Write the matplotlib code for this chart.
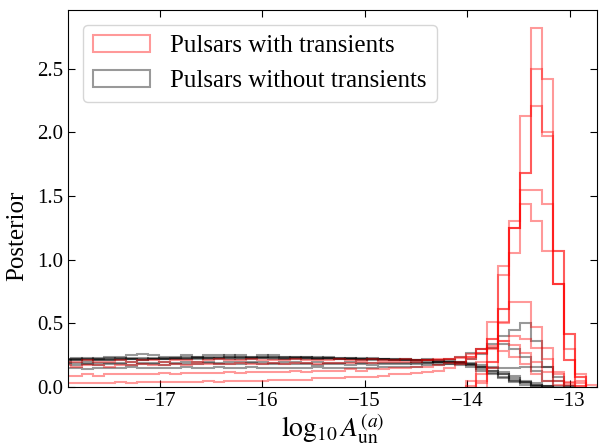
import numpy as np
import matplotlib
matplotlib.use('Agg')
import matplotlib.pyplot as plt

plt.rcParams['font.family'] = ['Liberation Serif', 'DejaVu Serif']
plt.rcParams['mathtext.fontset'] = 'stix'

# common bin grid for log10 amplitude (49 bins)
edges = np.linspace(-17.975, -12.732, 50)

# posterior densities, pulsars with transient noise
with_transients = [
    [0] * 37 + [0.01, 0.05, 0.2, 0.61, 1.25, 2.13, 2.82, 1.97, 0.81, 0.21, 0.03, 0],
    [0] * 38 + [0.03, 0.15, 0.5, 1.05, 1.68, 2.5, 2.42, 1.07, 0.42, 0.08, 0],
    [0] * 39 + [0.2, 0.61, 1.25, 1.68, 2.21, 2.0, 1.07, 0.3, 0.05, 0],
    [0] * 38 + [0.1, 0.31, 0.88, 1.25, 1.55, 1.55, 1.44, 0.81, 0.42, 0.1, 0.02],
    [0] * 37 + [0.05, 0.2, 0.51, 0.95, 1.3, 1.44, 1.3, 1.07, 0.81, 0.21, 0.08, 0],
    [0.03, 0.03, 0.03, 0.03, 0.03, 0.04, 0.03, 0.04, 0.04, 0.04,
     0.04, 0.04, 0.04, 0.05, 0.04, 0.05, 0.05, 0.05, 0.05, 0.06,
     0.06, 0.06, 0.06, 0.07, 0.07, 0.07, 0.08, 0.08, 0.08, 0.09,
     0.1, 0.1, 0.11, 0.12, 0.13, 0.15, 0.18, 0.22, 0.3, 0.38,
     0.51, 0.67, 0.67, 0.47, 0.31, 0.12, 0.04, 0.01, 0],
    [0.09, 0.09, 0.1, 0.09, 0.1, 0.1, 0.1, 0.1, 0.1, 0.11,
     0.1, 0.11, 0.11, 0.11, 0.11, 0.12, 0.11, 0.12, 0.12, 0.12,
     0.12, 0.13, 0.12, 0.13, 0.13, 0.13, 0.14, 0.13, 0.14, 0.14,
     0.15, 0.15, 0.16, 0.16, 0.17, 0.19, 0.2, 0.24, 0.27, 0.32,
     0.36, 0.4, 0.38, 0.31, 0.22, 0.1, 0.03, 0.01, 0],
    [0.17, 0.16, 0.17, 0.17, 0.16, 0.17, 0.17, 0.18, 0.17, 0.17,
     0.18, 0.17, 0.18, 0.18, 0.18, 0.18, 0.19, 0.18, 0.18, 0.19,
     0.18, 0.19, 0.19, 0.18, 0.19, 0.19, 0.19, 0.2, 0.19, 0.2,
     0.2, 0.2, 0.2, 0.21, 0.21, 0.22, 0.24, 0.26, 0.3, 0.38,
     0.36, 0.33, 0.27, 0.2, 0.12, 0.05, 0.02, 0, 0],
    [0.2, 0.2, 0.21, 0.2, 0.2, 0.21, 0.2, 0.21, 0.21, 0.2,
     0.21, 0.21, 0.2, 0.21, 0.22, 0.21, 0.21, 0.22, 0.21, 0.21,
     0.21, 0.22, 0.21, 0.21, 0.21, 0.22, 0.21, 0.21, 0.22, 0.21,
     0.21, 0.22, 0.21, 0.21, 0.22, 0.22, 0.23, 0.24, 0.27, 0.3,
     0.28, 0.24, 0.18, 0.1, 0.05, 0.02, 0, 0, 0],
]

# posterior densities, pulsars without transient noise
without_transients = [
    [0.22, 0.22, 0.23, 0.22, 0.23, 0.22, 0.23, 0.23, 0.22, 0.23,
     0.23, 0.24, 0.23, 0.24, 0.24, 0.25, 0.24, 0.24, 0.25, 0.24,
     0.24, 0.24, 0.23, 0.24, 0.23, 0.23, 0.23, 0.22, 0.23, 0.22,
     0.22, 0.22, 0.21, 0.22, 0.21, 0.21, 0.2, 0.18, 0.16, 0.13,
     0.1, 0.07, 0.04, 0.02, 0.01, 0, 0, 0, 0],
    [0.21, 0.22, 0.21, 0.22, 0.22, 0.23, 0.22, 0.22, 0.23, 0.22,
     0.23, 0.23, 0.24, 0.23, 0.23, 0.24, 0.24, 0.23, 0.24, 0.24,
     0.23, 0.24, 0.24, 0.23, 0.23, 0.22, 0.23, 0.22, 0.22, 0.22,
     0.21, 0.22, 0.21, 0.21, 0.2, 0.2, 0.19, 0.17, 0.14, 0.11,
     0.08, 0.05, 0.03, 0.01, 0, 0, 0, 0, 0],
    [0.2, 0.21, 0.2, 0.21, 0.21, 0.21, 0.22, 0.21, 0.22, 0.22,
     0.22, 0.22, 0.23, 0.22, 0.23, 0.23, 0.22, 0.23, 0.23, 0.23,
     0.22, 0.23, 0.22, 0.22, 0.23, 0.22, 0.22, 0.21, 0.22, 0.21,
     0.21, 0.21, 0.2, 0.21, 0.2, 0.2, 0.19, 0.18, 0.16, 0.13,
     0.1, 0.06, 0.04, 0.02, 0.01, 0, 0, 0, 0],
    [0.22, 0.23, 0.22, 0.23, 0.24, 0.24, 0.25, 0.26, 0.25, 0.24,
     0.24, 0.25, 0.24, 0.25, 0.25, 0.24, 0.25, 0.24, 0.24, 0.25,
     0.24, 0.23, 0.24, 0.23, 0.24, 0.23, 0.22, 0.23, 0.22, 0.22,
     0.22, 0.21, 0.21, 0.21, 0.2, 0.2, 0.18, 0.16, 0.13, 0.1,
     0.07, 0.04, 0.02, 0.01, 0, 0, 0, 0, 0],
    [0.21, 0.21, 0.22, 0.21, 0.21, 0.22, 0.22, 0.21, 0.22, 0.22,
     0.22, 0.22, 0.22, 0.23, 0.22, 0.22, 0.23, 0.22, 0.23, 0.22,
     0.22, 0.22, 0.23, 0.22, 0.22, 0.22, 0.22, 0.22, 0.21, 0.22,
     0.21, 0.21, 0.21, 0.2, 0.21, 0.2, 0.2, 0.19, 0.17, 0.15,
     0.12, 0.09, 0.05, 0.03, 0.01, 0, 0, 0, 0],
    [0.18, 0.17, 0.18, 0.17, 0.18, 0.18, 0.17, 0.18, 0.18, 0.17,
     0.18, 0.18, 0.18, 0.19, 0.18, 0.18, 0.18, 0.19, 0.18, 0.18,
     0.18, 0.18, 0.18, 0.17, 0.18, 0.18, 0.17, 0.18, 0.17, 0.18,
     0.18, 0.18, 0.19, 0.19, 0.2, 0.22, 0.24, 0.27, 0.3, 0.34,
     0.34, 0.3, 0.24, 0.13, 0.05, 0.01, 0, 0, 0],
    [0.15, 0.15, 0.14, 0.15, 0.15, 0.15, 0.16, 0.15, 0.15, 0.15,
     0.15, 0.16, 0.15, 0.15, 0.16, 0.15, 0.15, 0.16, 0.15, 0.15,
     0.15, 0.15, 0.15, 0.16, 0.15, 0.15, 0.15, 0.15, 0.15, 0.16,
     0.16, 0.16, 0.16, 0.17, 0.17, 0.18, 0.2, 0.22, 0.26, 0.31,
     0.4, 0.45, 0.5, 0.36, 0.16, 0.05, 0.01, 0, 0],
    [0.19, 0.19, 0.18, 0.19, 0.19, 0.19, 0.2, 0.19, 0.19, 0.2,
     0.19, 0.2, 0.2, 0.2, 0.19, 0.2, 0.2, 0.2, 0.2, 0.19,
     0.2, 0.2, 0.19, 0.2, 0.19, 0.19, 0.2, 0.19, 0.19, 0.19,
     0.19, 0.19, 0.18, 0.19, 0.18, 0.18, 0.17, 0.17, 0.16, 0.16,
     0.15, 0.15, 0.16, 0.16, 0.16, 0.08, 0.01, 0, 0],
]


def step_hist(ax, dens, **kw):
    # only histogram the bins that hold samples
    nz = np.nonzero(dens)[0]
    lo, hi = nz[0], nz[-1] + 1
    bins = edges[lo:hi + 1]
    centres = 0.5 * (bins[:-1] + bins[1:])
    ax.hist(centres, bins=bins, weights=dens[lo:hi], histtype='step', **kw)


fig = plt.figure(figsize=(6.0, 4.45), dpi=100)
ax = fig.add_axes([0.113, 0.13, 0.882, 0.848])

for i, dens in enumerate(without_transients):
    step_hist(ax, dens, color='k', alpha=0.4, lw=1.5,
              label='Pulsars without transients' if i == 0 else None)
for i, dens in enumerate(with_transients):
    step_hist(ax, dens, color='r', alpha=0.4, lw=1.5,
              label='Pulsars with transients' if i == 0 else None)

ax.set_xlim(-17.9, edges[-1])
ax.set_ylim(bottom=0)
ax.set_xticks([-17, -16, -15, -14, -13])
ax.set_yticks([0, 0.5, 1.0, 1.5, 2.0, 2.5])
ax.tick_params(direction='in', top=True, right=True, labelsize=15, length=5)
ax.set_xlabel(r'$\log_{10}A_{\rm un}^{(a)}$', fontsize=20, labelpad=0)
ax.set_ylabel('Posterior', fontsize=18)
ax.yaxis.set_label_coords(-0.075, 0.40)

handles, labels = ax.get_legend_handles_labels()
ax.legend(handles[::-1], labels[::-1], loc='upper left', fontsize=18,
          handlelength=2.3, borderaxespad=0.6)

fig.savefig('out.png', dpi=100)
